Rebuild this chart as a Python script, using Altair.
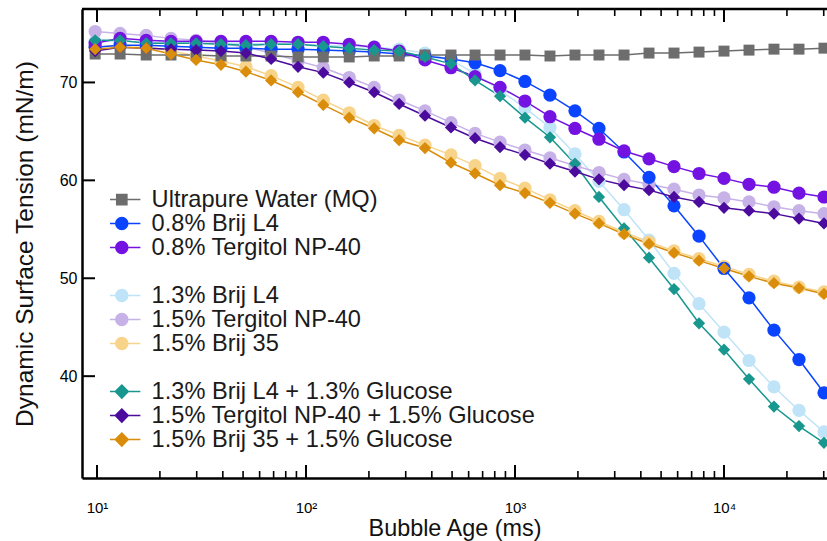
import altair as alt
import pandas as pd

# ---------------- data ----------------
AGES_MS = [9.8, 12.9, 17.2, 22.6, 29.8, 39.2, 51.6, 68.1, 91.6, 121, 161, 212, 279, 371,
           494, 644, 848, 1116, 1470, 1936, 2522, 3324, 4377, 5765, 7593, 10000, 13170,
           17340, 22840, 30080]

WATER_MQ = [72.9, 72.9, 72.8, 72.8, 72.8, 72.7, 72.7, 72.7, 72.6, 72.6, 72.6, 72.7, 72.7, 72.8,
            72.8, 72.8, 72.8, 72.8, 72.7, 72.8, 72.8, 72.8, 73.0, 73.0, 73.1, 73.2, 73.3, 73.4,
            73.4, 73.5]
BRIJ_L4_08 = [73.6, 73.8, 73.8, 73.7, 73.6, 73.5, 73.5, 73.4, 73.4, 73.3, 73.2, 73.1, 72.9, 72.7,
              72.4, 72.0, 71.2, 70.1, 68.7, 67.1, 65.3, 62.9, 60.3, 57.4, 54.3, 51.0, 48.0, 44.7,
              41.7, 38.3]
TERG_08 = [74.0, 74.5, 74.3, 74.2, 74.2, 74.2, 74.2, 74.2, 74.1, 74.1, 73.9, 73.6, 73.2, 72.3,
           71.5, 70.6, 69.5, 68.1, 66.5, 65.3, 64.2, 63.0, 62.2, 61.4, 60.7, 60.2, 59.6, 59.3,
           58.7, 58.3]
BRIJ_L4_13 = [74.2, 74.2, 74.1, 74.1, 74.0, 74.0, 74.0, 73.9, 73.9, 73.8, 73.7, 73.6, 73.4, 73.0,
              72.3, 70.9, 69.2, 67.4, 65.4, 62.7, 59.9, 57.0, 53.9, 50.5, 47.4, 44.5, 41.6, 38.9,
              36.5, 34.3]
TERG_15 = [75.2, 75.0, 74.8, 74.5, 74.3, 74.0, 73.6, 73.0, 72.2, 71.5, 70.5, 69.5, 68.2, 67.1,
           65.9, 64.8, 63.9, 63.1, 62.3, 61.5, 60.8, 60.1, 59.6, 59.1, 58.5, 58.2, 57.8, 57.3,
           56.9, 56.6]
BRIJ35_15 = [73.6, 73.8, 73.7, 73.2, 72.7, 72.2, 71.6, 70.7, 69.5, 68.2, 66.9, 65.6, 64.6, 63.6,
             62.6, 61.5, 60.2, 59.2, 58.0, 56.9, 55.8, 54.7, 53.7, 52.8, 52.0, 51.2, 50.4, 49.7,
             49.1, 48.6]
BRIJ_L4_GLU = [74.3, 74.3, 74.0, 74.0, 74.0, 73.9, 73.8, 73.9, 73.9, 73.7, 73.5, 73.3, 73.2, 72.6,
               71.9, 70.2, 68.6, 66.4, 64.4, 61.7, 58.3, 55.1, 52.1, 48.9, 45.4, 42.7, 39.7, 36.9,
               34.9, 33.2]
TERG_GLU = [73.2, 73.6, 73.5, 73.4, 73.3, 73.2, 73.0, 72.4, 71.6, 71.0, 70.0, 69.0, 67.8, 66.6,
            65.4, 64.3, 63.4, 62.6, 61.7, 60.9, 60.1, 59.5, 59.0, 58.3, 57.8, 57.2, 56.9, 56.6,
            56.1, 55.6]
BRIJ35_GLU = [73.4, 73.6, 73.5, 72.9, 72.3, 71.8, 71.1, 70.2, 69.0, 67.7, 66.4, 65.3, 64.1, 63.3,
              61.8, 60.7, 59.5, 58.7, 57.7, 56.6, 55.6, 54.5, 53.5, 52.6, 51.8, 51.0, 50.2, 49.5,
              49.0, 48.4]

SERIES_NAMES = [
    "Ultrapure Water (MQ)", "0.8% Brij L4", "0.8% Tergitol NP-40",
    "1.3% Brij L4", "1.5% Tergitol NP-40", "1.5% Brij 35",
    "1.3% Brij L4 + 1.3% Glucose", "1.5% Tergitol NP-40 + 1.5% Glucose",
    "1.5% Brij 35 + 1.5% Glucose",
]
SERIES_VALUES = [WATER_MQ, BRIJ_L4_08, TERG_08, BRIJ_L4_13, TERG_15, BRIJ35_15,
                 BRIJ_L4_GLU, TERG_GLU, BRIJ35_GLU]

MAJOR_TICKS = [10, 100, 1000, 10000]
MINOR_TICKS = [20, 30, 40, 50, 60, 70, 80, 90, 200, 300, 400, 500, 600, 700, 800, 900,
               2000, 3000, 4000, 5000, 6000, 7000, 8000, 9000, 20000, 30000]
Y_TICKS = [40, 50, 60, 70]

# ---------------- styles ----------------
COLORS = ["#6d6d6d", "#0a44ff", "#7412e2", "#bfe3f7", "#c7b2e8", "#f8d38a",
          "#18978f", "#4b0b9c", "#d98d0b"]
CIRCLES = [SERIES_NAMES[i] for i in (3, 4, 5, 1, 2)]
SQUARES = [SERIES_NAMES[0]]
DIAMONDS = [SERIES_NAMES[i] for i in (6, 7, 8)]
DRAW_ORDER = [3, 4, 5, 0, 1, 2, 6, 7, 8]

LINE = "M-3.1,0H3.1"
P_CIRCLE = LINE + "M1,0A1,1,0,1,1,-1,0A1,1,0,1,1,1,0Z"
P_SQUARE = LINE + "M-0.85,-0.85H0.85V0.85H-0.85Z"
P_DIAMOND = LINE + "M0,-1.08L1.08,0L0,1.08L-1.08,0Z"

LEGEND_ROWS = SERIES_NAMES[0:3] + [" "] + SERIES_NAMES[3:6] + ["  "] + SERIES_NAMES[6:9]
LEGEND_COLORS = COLORS[0:3] + ["transparent"] + COLORS[3:6] + ["transparent"] + COLORS[6:9]
LEGEND_SHAPES = [P_SQUARE, P_CIRCLE, P_CIRCLE, P_CIRCLE, P_CIRCLE, P_CIRCLE, P_CIRCLE,
                 P_CIRCLE, P_DIAMOND, P_DIAMOND, P_DIAMOND]

W, H = 745, 469
MAJOR_LEN, MINOR_LEN = 13, 7

rows = []
for i in DRAW_ORDER:
    for a, v in zip(AGES_MS, SERIES_VALUES[i]):
        rows.append({"age": a, "tension": v, "series": SERIES_NAMES[i]})
df = pd.DataFrame(rows)

xticks_df = pd.DataFrame({"tick": MAJOR_TICKS + MINOR_TICKS,
                          "kind": ["major"] * len(MAJOR_TICKS) + ["minor"] * len(MINOR_TICKS)})
yticks_df = pd.DataFrame({"tick": Y_TICKS})
frame_df = pd.DataFrame({"edge": ["top"]})

FONT = "Liberation Sans"

x_scale = alt.Scale(type="log", domain=[8.478, 31100], nice=False)
y_scale = alt.Scale(domain=[29.6, 77.5], nice=False, zero=False)
color_scale = alt.Scale(domain=SERIES_NAMES, range=COLORS)

label_expr = ("datum.value == 10 ? '10\u00b9' : datum.value == 100 ? '10\u00b2' : "
              "datum.value == 1000 ? '10\u00b3' : '10\u2074'")

x_axis = alt.Axis(orient="bottom", values=MAJOR_TICKS, ticks=False, domain=True,
                  domainColor="black", domainWidth=2.5,
                  labelExpr=label_expr, labelFont=FONT, labelFontSize=15,
                  labelColor="black", labelPadding=22, labelFlush=False,
                  labelOverlap=False, title="Bubble Age (ms)", titleFont=FONT,
                  titleFontSize=23.4, titleFontWeight="normal", titleColor="#111111",
                  titlePadding=2, grid=False)
y_axis = alt.Axis(orient="left", values=Y_TICKS, ticks=False, domain=True,
                  domainColor="black", domainWidth=2.5, labelFont=FONT,
                  labelFontSize=16, labelColor="black", labelPadding=5,
                  title="Dynamic Surface Tension (mN/m)", titleFont=FONT, titleFontSize=24.5,
                  titleFontWeight="normal", titleColor="#111111", titlePadding=22, grid=False)

x_enc = alt.X("age:Q", scale=x_scale, axis=x_axis)
y_enc = alt.Y("tension:Q", scale=y_scale, axis=y_axis)
color_enc = alt.Color("series:N", scale=color_scale, legend=None)

base = alt.Chart(df)

lines = base.mark_line(strokeWidth=1.5, clip=True).encode(x=x_enc, y=y_enc, color=color_enc)


def point_layer(names, shape, size):
    return base.transform_filter(
        alt.FieldOneOfPredicate(field="series", oneOf=names)
    ).mark_point(shape=shape, filled=True, size=size, opacity=1, clip=True).encode(
        x=x_enc, y=y_enc, color=color_enc)


circles = point_layer(CIRCLES, "circle", 175)
squares = point_layer(SQUARES, "square", 120)
diamonds = point_layer(DIAMONDS, "diamond", 150)


def xtick_layer(kind, length, width, bottom):
    y0, y1 = (H, H - length) if bottom else (0, length)
    return alt.Chart(xticks_df).transform_filter(alt.datum.kind == kind).mark_rule(
        color="black", strokeWidth=width
    ).encode(x=alt.X("tick:Q", scale=x_scale, axis=x_axis), y=alt.value(y0), y2=alt.value(y1))


tick_layers = [xtick_layer("major", MAJOR_LEN, 2, True), xtick_layer("minor", MINOR_LEN, 1.6, True),
               xtick_layer("major", MAJOR_LEN, 2, False), xtick_layer("minor", MINOR_LEN, 1.6, False)]

yticks = alt.Chart(yticks_df).mark_rule(color="black", strokeWidth=2).encode(
    y=alt.Y("tick:Q", scale=y_scale, axis=y_axis), x=alt.value(0), x2=alt.value(MAJOR_LEN))

top_frame = alt.Chart(frame_df).mark_rule(color="black", strokeWidth=2.5).encode(
    x=alt.value(0), x2=alt.value(W), y=alt.value(0))

legend_def = alt.Legend(orient="none", legendX=28, legendY=179, title=None, padding=0,
                        symbolSize=144, symbolStrokeWidth=1.5, symbolFillColor="white",
                        symbolStrokeColor="white", symbolOpacity=1, labelFont=FONT,
                        labelFontSize=23.6, labelColor="#1a1a1a", labelOffset=18,
                        labelLimit=0, rowPadding={"expr": "-4.2"}, clipHeight=23.2)

legend_layer = base.transform_filter("datum.age < 0").mark_point(
    filled=True, opacity=1
).encode(
    x=x_enc, y=y_enc,
    fill=alt.Fill("series:N", scale=alt.Scale(domain=LEGEND_ROWS, range=LEGEND_COLORS),
                  legend=legend_def),
    stroke=alt.Stroke("series:N", scale=alt.Scale(domain=LEGEND_ROWS, range=LEGEND_COLORS),
                      legend=legend_def),
    shape=alt.Shape("series:N", scale=alt.Scale(domain=LEGEND_ROWS, range=LEGEND_SHAPES),
                    legend=legend_def),
)

chart = alt.layer(lines, circles, squares, diamonds, *tick_layers, yticks, top_frame,
                  legend_layer).properties(
    width=W, height=H,
    padding={"left": 82, "top": 9, "right": 0, "bottom": 63},
    autosize=alt.AutoSizeParams(type="none"),
).configure_view(stroke=None).configure(background="white")

chart.save("out.html", embed_options={"renderer": "svg", "actions": False})
